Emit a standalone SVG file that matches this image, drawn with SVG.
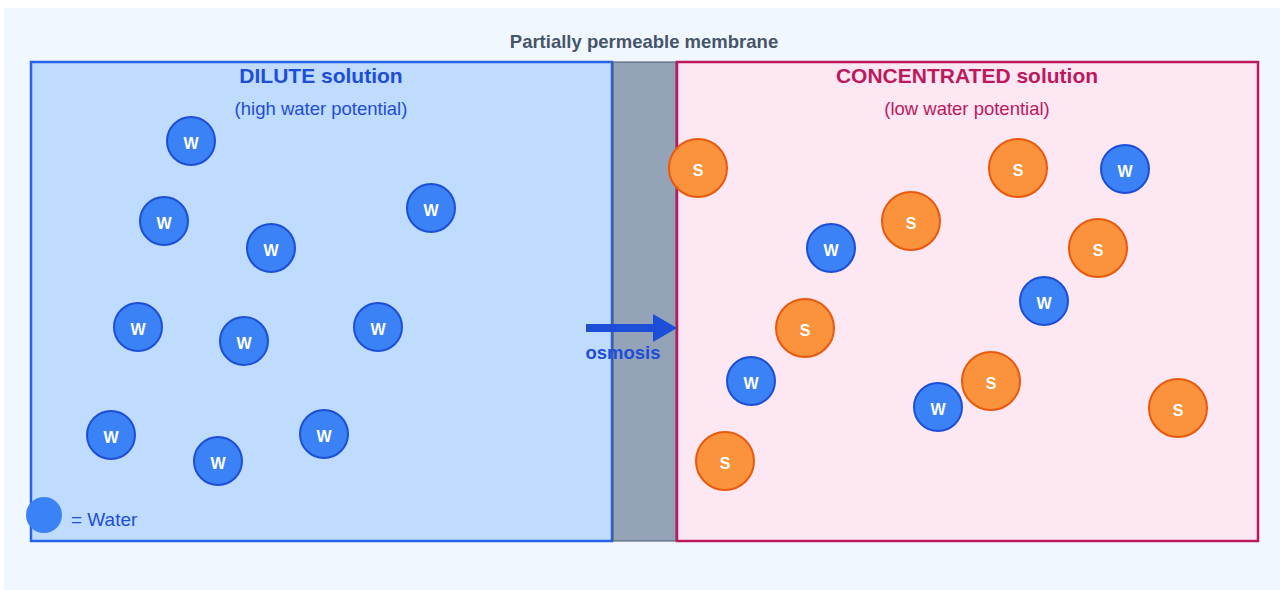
<svg xmlns="http://www.w3.org/2000/svg" width="1283" height="590" viewBox="0 0 1283 590">
<style>
.w circle{fill:#3b82f6;stroke:#1d4ed8;stroke-width:2}
.s circle{fill:#fb923c;stroke:#ea580c;stroke-width:2}
.lbl{font-family:"Liberation Sans",Arial,sans-serif;font-weight:bold;font-size:16px;fill:#ffffff;text-anchor:middle}
.t{font-family:"Liberation Sans",Arial,sans-serif;text-anchor:middle}
</style>
<rect x="4" y="8" width="1276" height="582" fill="#f0f7ff"/>
<text class="t" x="644" y="47.5" font-size="18.5" font-weight="bold" fill="#475569">Partially permeable membrane</text>
<g id="dilute">
<rect x="31" y="62" width="581" height="479" fill="#bfdbfe" stroke="#2563eb" stroke-width="2.5"/>
<text class="t" x="321" y="83" font-size="21" font-weight="bold" fill="#1d4ed8">DILUTE solution</text>
<text class="t" x="321" y="115" font-size="18.5" fill="#1d4ed8">(high water potential)</text>
</g>
<g id="membrane">
<rect x="613" y="62" width="63" height="479" fill="#94a3b8" stroke="#475569" stroke-width="1"/>
</g>
<g id="concentrated">
<rect x="677" y="62" width="581" height="479" fill="#fce7f3" stroke="#be185d" stroke-width="2.5"/>
<text class="t" x="967" y="83" font-size="21" font-weight="bold" fill="#be185d">CONCENTRATED solution</text>
<text class="t" x="967" y="115" font-size="18.5" fill="#be185d">(low water potential)</text>
</g>
<g id="water-left">
<g class="w"><circle cx="191" cy="141" r="24"/><text class="lbl" x="191" y="149">W</text></g>
<g class="w"><circle cx="164" cy="221" r="24"/><text class="lbl" x="164" y="229">W</text></g>
<g class="w"><circle cx="271" cy="248" r="24"/><text class="lbl" x="271" y="256">W</text></g>
<g class="w"><circle cx="431" cy="208" r="24"/><text class="lbl" x="431" y="216">W</text></g>
<g class="w"><circle cx="138" cy="327" r="24"/><text class="lbl" x="138" y="335">W</text></g>
<g class="w"><circle cx="244" cy="341" r="24"/><text class="lbl" x="244" y="349">W</text></g>
<g class="w"><circle cx="378" cy="327" r="24"/><text class="lbl" x="378" y="335">W</text></g>
<g class="w"><circle cx="111" cy="435" r="24"/><text class="lbl" x="111" y="443">W</text></g>
<g class="w"><circle cx="218" cy="461" r="24"/><text class="lbl" x="218" y="469">W</text></g>
<g class="w"><circle cx="324" cy="434" r="24"/><text class="lbl" x="324" y="442">W</text></g>
</g>
<g id="right-particles">
<g class="s"><circle cx="698" cy="168" r="29"/><text class="lbl" x="698" y="176">S</text></g>
<g class="s"><circle cx="1018" cy="168" r="29"/><text class="lbl" x="1018" y="176">S</text></g>
<g class="w"><circle cx="1125" cy="169" r="24"/><text class="lbl" x="1125" y="177">W</text></g>
<g class="s"><circle cx="911" cy="221" r="29"/><text class="lbl" x="911" y="229">S</text></g>
<g class="w"><circle cx="831" cy="248" r="24"/><text class="lbl" x="831" y="256">W</text></g>
<g class="s"><circle cx="1098" cy="248" r="29"/><text class="lbl" x="1098" y="256">S</text></g>
<g class="w"><circle cx="1044" cy="301" r="24"/><text class="lbl" x="1044" y="309">W</text></g>
<g class="s"><circle cx="805" cy="328" r="29"/><text class="lbl" x="805" y="336">S</text></g>
<g class="w"><circle cx="751" cy="381" r="24"/><text class="lbl" x="751" y="389">W</text></g>
<g class="s"><circle cx="991" cy="381" r="29"/><text class="lbl" x="991" y="389">S</text></g>
<g class="w"><circle cx="938" cy="407" r="24"/><text class="lbl" x="938" y="415">W</text></g>
<g class="s"><circle cx="1178" cy="408" r="29"/><text class="lbl" x="1178" y="416">S</text></g>
<g class="s"><circle cx="725" cy="461" r="29"/><text class="lbl" x="725" y="469">S</text></g>
</g>
<g id="connectors">
<line x1="586" y1="328" x2="656" y2="328" stroke="#1d4ed8" stroke-width="8"/>
<polygon points="653,314 677,328 653,342" fill="#1d4ed8"/>
<text class="t" x="623" y="359" font-size="18.5" font-weight="bold" fill="#1d4ed8">osmosis</text>
</g>
<g id="legend">
<circle cx="44" cy="515" r="18" fill="#3b82f6"/>
<text x="71" y="526" font-family="Liberation Sans,Arial,sans-serif" font-size="19" fill="#1d4ed8">= Water</text>
</g>
</svg>
